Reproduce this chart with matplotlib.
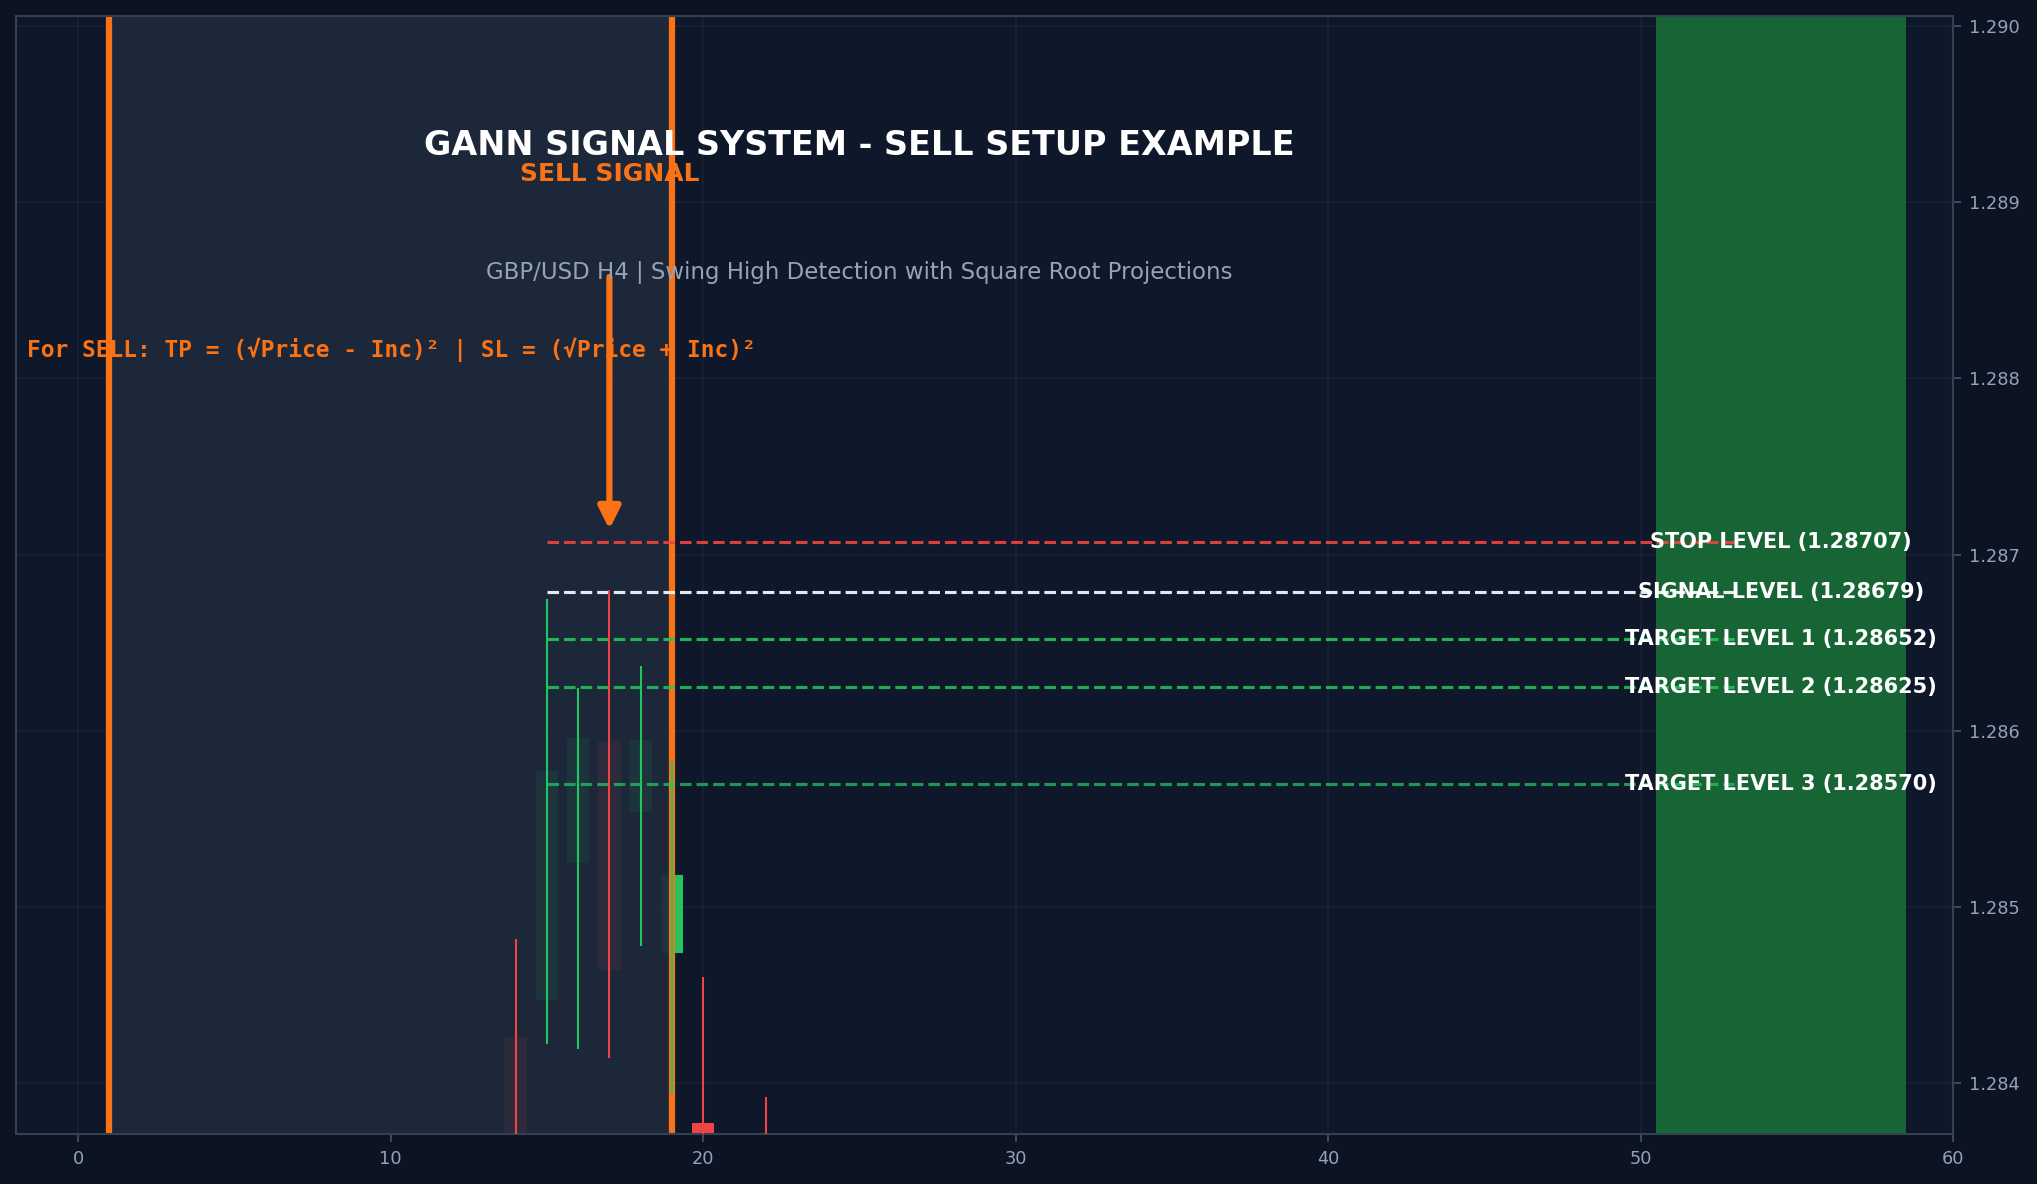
import matplotlib
matplotlib.use("Agg")
import matplotlib.pyplot as plt
from matplotlib.patches import Rectangle

# ---- data ----
candle_x = [14, 15, 16, 17, 18, 19, 20, 22]
candle_open = [1.28426, 1.28447, 1.28525, 1.28594, 1.28554, 1.28474, 1.28377, 1.28360]
candle_high = [1.28482, 1.28675, 1.28624, 1.28680, 1.28637, 1.28583, 1.28460, 1.28392]
candle_low = [1.28300, 1.28422, 1.28419, 1.28414, 1.28478, 1.28394, 1.28300, 1.28310]
candle_close = [1.28350, 1.28577, 1.28596, 1.28464, 1.28595, 1.28518, 1.28320, 1.28330]

level_names = ["STOP LEVEL", "SIGNAL LEVEL", "TARGET LEVEL 1", "TARGET LEVEL 2", "TARGET LEVEL 3"]
level_values = [1.28707, 1.28679, 1.28652, 1.28625, 1.28570]
level_colors = ["#ef4444", "#f1f5f9", "#22c55e", "#22c55e", "#22c55e"]
level_alpha = [0.9, 0.95, 0.9, 0.85, 0.75]
level_start, level_end = 15, 53

swing_start, swing_end = 1, 19
signal_x = 17
target_zone = (50.5, 58.5)

title = "GANN SIGNAL SYSTEM - SELL SETUP EXAMPLE"
subtitle = "GBP/USD H4 | Swing High Detection with Square Root Projections"
formula = "For SELL: TP = (√Price - Inc)² | SL = (√Price + Inc)²"

xticks = [0, 10, 20, 30, 40, 50, 60]
yticks = [1.284, 1.285, 1.286, 1.287, 1.288, 1.289, 1.290]

BG = "#0c1322"
AX_BG = "#0f172a"
ORANGE = "#f97316"
GREEN = "#22c55e"
RED = "#ef4444"
GRAY = "#94a3b8"

fig = plt.figure(figsize=(2037 / 150, 1184 / 150), dpi=150, facecolor=BG)
ax = fig.add_axes([0.0077, 0.0422, 0.9511, 0.9446])
ax.set_facecolor(AX_BG)
ax.set_xlim(-2, 60)
ax.set_ylim(1.28371, 1.29006)

ax.set_axisbelow('line')
ax.grid(True, color="#1e293b", linewidth=0.8, alpha=0.6)

# candle bodies (under the swing span)
w = 0.72
for x, o, h, l, c in zip(candle_x, candle_open, candle_high, candle_low, candle_close):
    col = GREEN if c >= o else RED
    ax.add_patch(Rectangle((x - w / 2, min(o, c)), w, abs(c - o), facecolor=col,
                           edgecolor="none", zorder=1.55))

# swing region
ax.axvspan(swing_start, swing_end, color="#1e293b", alpha=0.93, zorder=1.58, lw=0)
ax.axvspan(target_zone[0], target_zone[1], color="#176534", alpha=1.0, zorder=1.6, lw=0)

# orange verticals
for xv in (swing_start, swing_end):
    ax.axvline(xv, color=ORANGE, linewidth=3, zorder=2.5)

# levels
for name, val, col, a in zip(level_names, level_values, level_colors, level_alpha):
    ax.plot([level_start, level_end], [val, val], linestyle="--", color=col,
            linewidth=1.5, alpha=a, zorder=3)
    ax.text(54.5, val, f"{name} ({val:.5f})", color="white", fontsize=10,
            fontweight="bold", ha="center", va="center", zorder=6)

# wicks
for x, o, h, l, c in zip(candle_x, candle_open, candle_high, candle_low, candle_close):
    col = GREEN if c >= o else RED
    ax.plot([x, x], [l, h], color=col, linewidth=1.0, zorder=4, solid_capstyle="butt")

# signal arrow
ax.annotate("", xy=(signal_x, 1.28712), xytext=(signal_x, 1.28860),
            arrowprops=dict(arrowstyle="-|>", color=ORANGE, lw=3, mutation_scale=22),
            zorder=5)
ax.text(signal_x, 1.28916, "SELL SIGNAL", color=ORANGE, fontsize=12, fontweight="bold",
        ha="center", va="center", zorder=6)

ax.text(25, 1.28932, title, color="white", fontsize=16, fontweight="bold",
        ha="center", va="center", zorder=6)
ax.text(25, 1.28860, subtitle, color=GRAY, fontsize=11, ha="center", va="center", zorder=6)
ax.text(-1.65, 1.28816, formula, color=ORANGE, fontsize=11, fontweight="bold",
        family="DejaVu Sans Mono", ha="left", va="center", zorder=6)

ax.set_xticks(xticks)
ax.set_yticks(yticks)
ax.set_yticklabels([f"{v:.3f}" for v in yticks])
ax.yaxis.tick_right()
ax.tick_params(colors=GRAY, labelsize=8.5, length=4, width=0.8)
ax.tick_params(axis="both", color="#475569")
for s in ax.spines.values():
    s.set_color("#334155")
    s.set_linewidth(1)

fig.savefig("out.png", dpi=150, facecolor=BG)
